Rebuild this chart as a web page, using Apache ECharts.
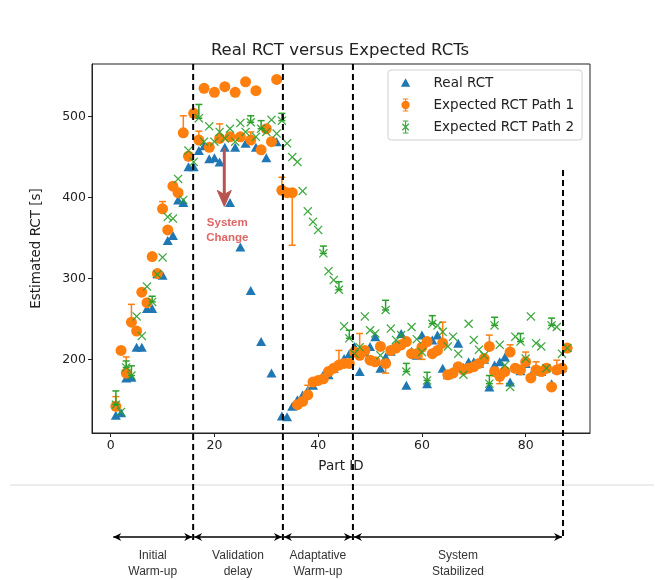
<!DOCTYPE html>
<html><head><meta charset="utf-8">
<script src="https://cdn.jsdelivr.net/npm/echarts@6/dist/echarts.min.js"></script>
<style>html,body{margin:0;padding:0;background:#fff}#c{width:660px;height:580px}</style>
</head><body><div id="c"></div>
<script>
const partIds = [1,2,3,4,5,6,7,8,9,10,11,12,13,14,15,16,17,18,19,20,21,22,23,24,25,26,27,28,29,30,31,32,33,34,35,36,37,38,39,40,41,42,43,44,45,46,47,48,49,50,51,52,53,54,55,56,57,58,59,60,61,62,63,64,65,66,67,68,69,70,71,72,73,74,75,76,77,78,79,80,81,82,83,84,85,86,87,88];
const realRCT = [131,134,177,178,215,215,263,263,306,304, 347,353,397,394,438,438,458,464,448,449, 444,462,394,462,339,467,285,462,222,449, 183,469,130,129,142,150,156,162,168,175, 181,181,189,195,201,207,216,185,209,216, 228,189,203,210,218,232,168,210,205,230, 170,224,230,189,181,185,220,190,197,197, 195,200,166,193,197,203,172,190,186,195, 180,188,185,190,170,188,190,215];
const path1RCT = [142,211,183,246,235,283,270,327,306,386, 360,414,406,480,451,504,471,535,462,530, 473,537,475,530,475,543,471,532,459,485, 469,546,409,406,406,144,148,156,172,174, 176,185,189,193,195,195,209,205,211,199, 197,216,195,211,214,218,222,207,207,215, 222,207,211,220,181,183,191,187,189,191, 195,201,216,185,179,185,209,189,187,197, 177,187,185,189,166,187,189,214];
const path2RCT = [144,135,190,180,253,229,290,271,305,326, 376,374,423,397,458,444,498,469,488,469, 481,473,485,469,492,481,493,475,485,481, 496,479,495,467,450,444,408,383,370,360, 331,309,298,286,241,226,207,215,253,236, 232,205,261,238,224,230,185,240,225,209, 174,244,242,234,216,228,207,181,244,224, 212,205,170,242,218,193,166,228,222,201, 253,220,216,189,242,240,207,214];
// error bars: [part, from, to]
const path1Err = [[1,142,154],[3,183,203],[4,246,268],[10,386,395],[14,480,501],[17,471,482],[21,473,491],[27,471,481],[33,409,425],[35,406,341],[38,156,168],[44,193,211],[48,205,232],[53,195,183],[60,215,200],[64,220,246],[73,216,230],[75,179,170],[77,209,218],[80,197,209],[82,187,197],[86,187,199]];
const path2Err = [[1,144,161],[3,190,198],[4,180,192],[8,271,278],[17,498,515],[27,493,501],[29,485,495],[33,495,504],[41,331,340],[44,286,296],[46,226,236],[53,261,273],[57,185,195],[61,174,184],[62,244,254],[73,170,180],[74,242,252],[79,222,232],[85,242,251]];
const phaseBounds = [0.5, 15.9, 33.2, 46.7, 87.2];
const phaseLabels = ['Initial\nWarm-up','Validation\ndelay','Adaptative\nWarm-up','System\nStabilized'];
const xTicks = [0,20,40,60,80];
const yTicks = [200,300,400,500];
const seriesNames = ['Real RCT','Expected RCT Path 1','Expected RCT Path 2'];
const changeArrow = {x: 21.9, from: 461, to: 389};

const C_BLUE='#1f77b4', C_ORANGE='#ff7f0e', C_GREEN='#2ca02c';
const X_PATH='path://M0,1 L1,0 L5,4 L9,0 L10,1 L6,5 L10,9 L9,10 L5,6 L1,10 L0,9 L4,5 Z';
const ICON_BLUE='path://M1,11 L6,2 L11,11 Z M0,0 L0.01,0 Z M12,14 L12.01,14 Z';
const ICON_ORANGE='path://M3,0 H9 V1.2 H6.6 V12.8 H9 V14 H3 V12.8 H5.4 V1.2 H3 Z M6,2.5 A4.5,4.5 0 1 1 6,11.5 A4.5,4.5 0 1 1 6,2.5 Z';
const ICON_GREEN='path://M3,0 H9 V1.2 H6.6 V12.8 H9 V14 H3 V12.8 H5.4 V1.2 H3 Z M2,4 L3,3 L6,6 L9,3 L10,4 L7,7 L10,10 L9,11 L6,8 L3,11 L2,10 L5,7 Z';

const chart = echarts.init(document.getElementById('c'), null, {renderer:'canvas'});
function zip(ids, vals){ return ids.map((id,i)=>[id, vals[i]]); }
function errRender(color){
  return function(params, api){
    const x = api.value(0);
    const a = api.coord([x, api.value(1)]);
    const b = api.coord([x, api.value(2)]);
    const w = 3.5, st = {stroke: color, lineWidth: 1.5};
    return {type:'group', children:[
      {type:'line', shape:{x1:a[0],y1:a[1],x2:b[0],y2:b[1]}, style:st},
      {type:'line', shape:{x1:b[0]-w,y1:b[1],x2:b[0]+w,y2:b[1]}, style:st},
      {type:'line', shape:{x1:a[0]-w,y1:a[1],x2:a[0]+w,y2:a[1]}, style:st}
    ]};
  };
}
const FONT = 'DejaVu Sans';
chart.setOption({
  animation: false,
  title: {text:'Real RCT versus Expected RCTs', left: 335, top: 37, textAlign:'center',
    textStyle:{fontFamily:FONT, fontSize:16.5, fontWeight:'normal', color:'#222'}},
  grid: {left: 92, right: 70, top: 64, bottom: 147, show: true, borderColor:'#222', borderWidth:1, outerBoundsMode:'none'},
  legend: {
    left: 388, top: 70, orient:'vertical', itemWidth: 28, itemHeight: 13, itemGap: 8,
    padding: [6, 8, 6, 12], backgroundColor:'#fff', borderColor:'#d0d0d0', borderWidth:1, borderRadius:3,
    textStyle:{fontFamily:FONT, fontSize:13.5, color:'#222', padding:[0,0,0,9]},
    data:[
      {name: seriesNames[0], icon: ICON_BLUE, itemStyle:{color:C_BLUE}},
      {name: seriesNames[1], icon: ICON_ORANGE, itemStyle:{color:C_ORANGE}},
      {name: seriesNames[2], icon: ICON_GREEN, itemStyle:{color:C_GREEN}}
    ]
  },
  xAxis: {type:'value', min:-3.6, max:92.4, name:'Part ID', nameLocation:'middle', nameGap:26,
    nameTextStyle:{fontFamily:FONT, fontSize:13.5, color:'#222'},
    axisLine:{show:true, onZero:false, lineStyle:{color:'#222'}},
    axisTick:{show:true, inside:false, length:4, customValues:xTicks, lineStyle:{color:'#222'}},
    axisLabel:{customValues:xTicks, fontFamily:FONT, fontSize:12.5, color:'#222', margin:6},
    splitLine:{show:false}},
  yAxis: {type:'value', min:109, max:565, name:'Estimated RCT [s]', nameLocation:'middle', nameGap:49,
    nameTextStyle:{fontFamily:FONT, fontSize:13.5, color:'#222'},
    axisLine:{show:true, onZero:false, lineStyle:{color:'#222'}},
    axisTick:{show:true, inside:false, length:4, customValues:yTicks, lineStyle:{color:'#222'}},
    axisLabel:{customValues:yTicks, fontFamily:FONT, fontSize:12.5, color:'#222', margin:6},
    splitLine:{show:false}},
  series: [
    {name: seriesNames[0], type:'scatter', symbol:'triangle', symbolSize:[10,9], z:2,
      itemStyle:{color:C_BLUE, opacity:1}, data: zip(partIds, realRCT)},
    {name:'p1err', type:'custom', z:3, renderItem: errRender(C_ORANGE), data: path1Err, silent:true},
    {name: seriesNames[1], type:'scatter', symbol:'circle', symbolSize:11, z:4,
      itemStyle:{color:C_ORANGE, opacity:1}, data: zip(partIds, path1RCT)},
    {name:'p2err', type:'custom', z:5, renderItem: errRender(C_GREEN), data: path2Err, silent:true},
    {name: seriesNames[2], type:'scatter', symbol: X_PATH, symbolSize:9, z:6,
      itemStyle:{color:C_GREEN, opacity:0.9}, data: zip(partIds, path2RCT)}
  ]
});

// annotation overlay
const px = v => chart.convertToPixel({gridIndex:0}, [v, 300])[0];
const py = v => chart.convertToPixel({gridIndex:0}, [0, v])[1];
const gTop = 64, dashBottom = 540, arrowY = 537, lastDashTop = 170;
const g = [];
g.push({type:'line', shape:{x1:10, y1:485, x2:654, y2:485}, style:{stroke:'#d9d9d9', lineWidth:1}, z:50});
phaseBounds.slice(1).forEach((b, i, arr) => {
  const x = px(b);
  const top = (i === arr.length - 1) ? lastDashTop : gTop;
  g.push({type:'line', shape:{x1:x, y1:top, x2:x, y2:dashBottom}, style:{stroke:'#000', lineWidth:2, lineDash:[6,4]}, z:100});
});
function head(x, y, dir){
  return {type:'polygon', shape:{points:[[x,y],[x-dir*8,y-4],[x-dir*5.5,y],[x-dir*8,y+4]]}, style:{fill:'#000'}, z:101};
}
for (let i=0;i<phaseBounds.length-1;i++){
  const x1 = px(phaseBounds[i]) + (i===0?0:1), x2 = px(phaseBounds[i+1]) - 1;
  g.push({type:'line', shape:{x1:x1, y1:arrowY, x2:x2, y2:arrowY}, style:{stroke:'#000', lineWidth:1.3}, z:101});
  g.push(head(x1, arrowY, -1)); g.push(head(x2, arrowY, 1));
  g.push({type:'text', x:(x1+x2)/2, y:548, style:{text:phaseLabels[i], fontFamily:'Liberation Sans', fontSize:12, fill:'#333', align:'center', verticalAlign:'top', lineHeight:16}, z:101});
}
const ax = px(changeArrow.x), ay1 = py(changeArrow.from), ay2 = py(changeArrow.to);
g.push({type:'line', shape:{x1:ax, y1:ay1, x2:ax, y2:ay2-12}, style:{stroke:'#b85450', lineWidth:3}, z:102});
g.push({type:'polygon', shape:{points:[[ax,ay2],[ax-7,ay2-16],[ax,ay2-12],[ax+7,ay2-16]]}, style:{fill:'#b85450', stroke:'#b85450', lineWidth:1}, z:102});
g.push({type:'text', x:ax+3, y:ay2+9, style:{text:'System\nChange', fontFamily:'Liberation Sans', fontSize:11.5, fontWeight:'bold', fill:'#e06666', align:'center', verticalAlign:'top', lineHeight:15}, z:102});
chart.setOption({graphic: g});
</script></body></html>
